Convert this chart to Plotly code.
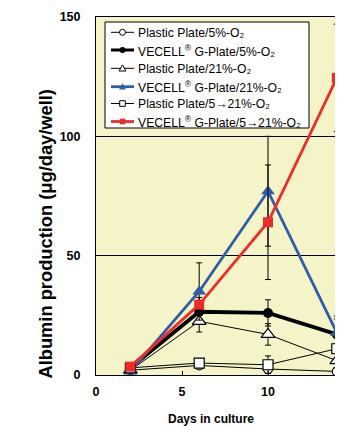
import plotly.graph_objects as go

days = [2, 6, 10, 14]

names = [
    "Plastic Plate/5%-O₂",
    "VECELL<sup>®</sup> G-Plate/5%-O₂",
    "Plastic Plate/21%-O₂",
    "VECELL<sup>®</sup> G-Plate/21%-O₂",
    "Plastic Plate/5→21%-O₂",
    "VECELL<sup>®</sup> G-Plate/5→21%-O₂",
]

plastic_5 = [2, 4, 2.5, 1.5]
plastic_5_err = [0.5, 1.0, 1.5, 0.5]
vecell_5 = [3, 26.5, 26, 17]
vecell_5_err = [1, 3, 5.5, 6.5]
plastic_21 = [2, 22.5, 17, 6]
plastic_21_err = [0.5, 4.5, 4.5, 3]
vecell_21 = [1.5, 35, 77, 17.7]
vecell_21_err = [0.5, 12, 23, 7]
plastic_521 = [3, 5, 4.3, 11]
plastic_521_err = [1, 1.5, 3.7, 2]
vecell_521 = [3.5, 29.5, 64, 124.5]
vecell_521_err = [1, 3, 24, 22.5]

x_ticks = [0, 5, 10, 15]
y_ticks = [0, 50, 100, 150]

# (values, errors, colour, line width, symbol, fill, size)
series = [
    (plastic_5, plastic_5_err, "black", 1, "circle", "white", 9),
    (vecell_5, vecell_5_err, "black", 3.8, "circle", "black", 10),
    (plastic_21, plastic_21_err, "black", 1, "triangle-up", "white", 12),
    (vecell_21, vecell_21_err, "#2F5DA8", 2.8, "triangle-up", "#2F5DA8", 12),
    (plastic_521, plastic_521_err, "black", 1, "square", "white", 10),
    (vecell_521, vecell_521_err, "#EE2B2B", 2.8, "square", "#EE2B2B", 10),
]

fig = go.Figure()
for name, (vals, errs, col, lw, sym, fill, size) in zip(names, series):
    mline = dict(color=col, width=1.2 if fill == "white" else 0)
    fig.add_trace(go.Scatter(
        x=days, y=vals, name=name, mode="lines+markers", showlegend=False,
        line=dict(color=col, width=lw),
        marker=dict(symbol=sym, size=size, color=fill, line=mline),
        error_y=dict(type="data", array=errs, visible=True, color="black", thickness=1, width=3),
        cliponaxis=False,
    ))

# plot area in page pixels: x 96..343, y 17..375
PW, PH = 247.0, 358.0
def px(x):
    return (x - 96) / PW
def py(y):
    return (375 - y) / PH

shapes = []
annotations = []
# legend box
shapes.append(dict(type="rect", xref="paper", yref="paper",
                   x0=px(105), x1=px(309), y0=py(128), y1=py(22),
                   fillcolor="white", line=dict(color="black", width=1), layer="above"))
row_y = [32.3, 50, 68.3, 86.7, 103.5, 121.5]
for name, (vals, errs, col, lw, sym, fill, size), ry in zip(names, series, row_y):
    shapes.append(dict(type="line", xref="paper", yref="paper",
                       x0=px(111), x1=px(134), y0=py(ry), y1=py(ry),
                       line=dict(color=col, width=min(lw, 3)), layer="above"))
    cx = 122.5
    mk = dict(xref="paper", yref="paper", fillcolor=fill,
              line=dict(color=col, width=1 if fill == "white" else 0), layer="above")
    if sym == "circle":
        r = 3
        shapes.append(dict(type="circle", x0=px(cx - r), x1=px(cx + r), y0=py(ry + r), y1=py(ry - r), **mk))
    elif sym == "square":
        r = 2.8
        shapes.append(dict(type="rect", x0=px(cx - r), x1=px(cx + r), y0=py(ry + r), y1=py(ry - r), **mk))
    else:
        r = 3.4
        path = "M %f,%f L %f,%f L %f,%f Z" % (px(cx - r), py(ry + r * 0.8), px(cx + r), py(ry + r * 0.8),
                                             px(cx), py(ry - r))
        shapes.append(dict(type="path", path=path, **mk))
    annotations.append(dict(text=name, xref="paper", yref="paper", x=px(136), y=py(ry + 0.5),
                            xanchor="left", yanchor="middle", showarrow=False,
                            font=dict(size=12.2, color="black")))

annotations += [
    dict(text="<b>Albumin production (μg/day/well)</b>", textangle=-90,
         xref="paper", yref="paper", x=px(44.5), y=py(234), xanchor="center", yanchor="middle",
         showarrow=False, font=dict(size=18.3)),
    dict(text="<b>Days in culture</b>", xref="paper", yref="paper",
         x=px(211), y=py(419), xanchor="center", yanchor="middle",
         showarrow=False, font=dict(size=12)),
]

# the page body has an 8px margin, so the figure is placed at (8, 8)
fig.update_layout(
    width=335, height=418,
    margin=dict(l=88, r=0, t=9, b=51, autoexpand=False),
    paper_bgcolor="white",
    plot_bgcolor="#F4F4C8",
    font=dict(family="Arial, Liberation Sans, sans-serif", color="black", size=12),
    showlegend=False,
    xaxis=dict(
        range=[0, 14.36], tickvals=x_ticks, ticktext=["<b>%d</b>" % t for t in x_ticks],
        showgrid=False, zeroline=False, automargin=False,
        showline=True, linecolor="black", linewidth=1, mirror=True,
        ticks="inside", ticklen=4, tickcolor="black",
        tickfont=dict(size=12.5),
        ticklabelstandoff=5,
    ),
    yaxis=dict(
        range=[0, 150], tickvals=y_ticks, ticktext=["<b>%d</b>" % t for t in y_ticks],
        showgrid=True, gridcolor="black", gridwidth=1, zeroline=False, automargin=False,
        showline=True, linecolor="black", linewidth=1,
        ticks="", tickfont=dict(size=12.5),
        ticklabelstandoff=12,
    ),
    shapes=shapes,
    annotations=annotations,
)

fig.write_html("out.html")
